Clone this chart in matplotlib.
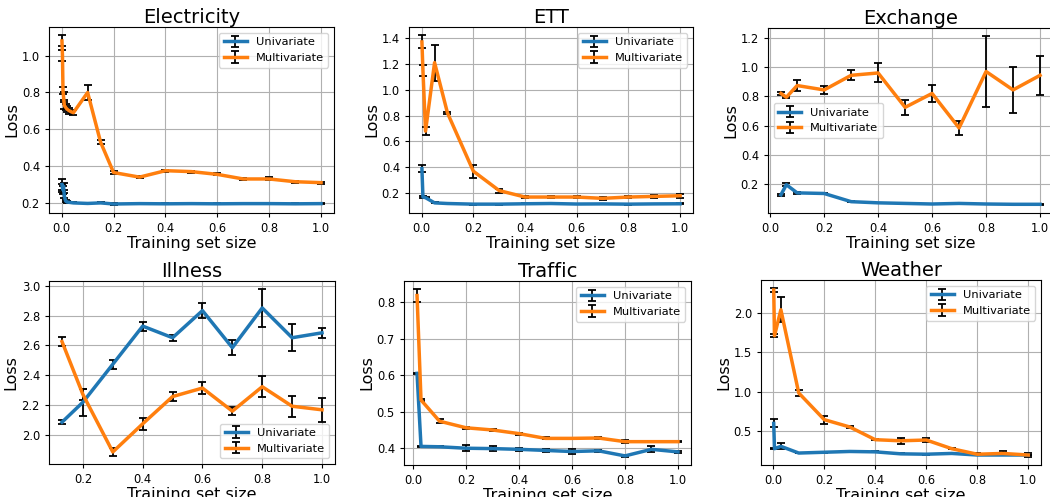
import matplotlib
matplotlib.use("Agg")
import matplotlib.pyplot as plt

# ---------------- data ----------------
elec_x = [0.001, 0.003, 0.005, 0.007, 0.01, 0.015, 0.02, 0.03, 0.045, 0.1, 0.15,
          0.2, 0.3, 0.4, 0.5, 0.6, 0.7, 0.8, 0.9, 1.0]
elec_uni = [0.30, 0.28, 0.27, 0.29, 0.24, 0.21, 0.205, 0.203, 0.200, 0.197, 0.200,
            0.194, 0.196, 0.195, 0.196, 0.195, 0.196, 0.196, 0.195, 0.196]
elec_uni_err = [0.03, 0.02, 0.02, 0.02, 0.015, 0.005, 0.004, 0.003, 0.003, 0.003, 0.003,
                0.003, 0.003, 0.003, 0.003, 0.003, 0.003, 0.003, 0.003, 0.003]
elec_multi = [1.08, 1.00, 0.81, 0.78, 0.73, 0.72, 0.71, 0.70, 0.69, 0.80, 0.53,
              0.365, 0.34, 0.375, 0.37, 0.355, 0.33, 0.33, 0.315, 0.31]
elec_multi_err = [0.03, 0.03, 0.02, 0.02, 0.02, 0.015, 0.015, 0.015, 0.015, 0.04, 0.01,
                  0.007, 0.007, 0.006, 0.006, 0.005, 0.007, 0.008, 0.005, 0.005]

ett_x = [0.001, 0.005, 0.015, 0.05, 0.1, 0.2, 0.3, 0.4, 0.5, 0.6, 0.7, 0.8, 0.9, 1.0]
ett_uni = [0.39, 0.17, 0.165, 0.125, 0.12, 0.115, 0.115, 0.118, 0.12, 0.116, 0.117,
           0.115, 0.117, 0.118]
ett_uni_err = [0.03, 0.005, 0.005, 0.004, 0.003, 0.003, 0.003, 0.003, 0.003, 0.003,
               0.003, 0.003, 0.003, 0.003]
ett_multi = [1.37, 1.15, 0.68, 1.21, 0.82, 0.37, 0.22, 0.17, 0.17, 0.17, 0.16,
             0.17, 0.175, 0.18]
ett_multi_err = [0.05, 0.04, 0.03, 0.14, 0.01, 0.05, 0.015, 0.01, 0.008, 0.008, 0.01,
                 0.01, 0.01, 0.015]

exch_x = [0.04, 0.06, 0.1, 0.2, 0.3, 0.4, 0.5, 0.6, 0.7, 0.8, 0.9, 1.0]
exch_uni = [0.127, 0.196, 0.14, 0.136, 0.08, 0.072, 0.068, 0.064, 0.068, 0.064, 0.062, 0.062]
exch_uni_err = [0.005, 0.01, 0.005, 0.005, 0.003, 0.002, 0.002, 0.002, 0.002, 0.002,
                0.002, 0.002]
exch_multi = [0.82, 0.794, 0.874, 0.844, 0.944, 0.96, 0.725, 0.82, 0.584, 0.97, 0.844, 0.944]
exch_multi_err = [0.008, 0.008, 0.04, 0.03, 0.035, 0.065, 0.05, 0.06, 0.05, 0.24, 0.16, 0.135]

ill_x = [0.13, 0.2, 0.3, 0.4, 0.5, 0.6, 0.7, 0.8, 0.9, 1.0]
ill_uni = [2.084, 2.218, 2.473, 2.729, 2.651, 2.833, 2.584, 2.851, 2.651, 2.684]
ill_uni_err = [0.015, 0.09, 0.03, 0.03, 0.02, 0.05, 0.05, 0.125, 0.09, 0.035]
ill_multi = [2.625, 2.27, 1.884, 2.073, 2.256, 2.313, 2.158, 2.322, 2.191, 2.167]
ill_multi_err = [0.03, 0.04, 0.025, 0.04, 0.03, 0.04, 0.025, 0.07, 0.07, 0.08]

traf_x = [0.015, 0.03, 0.1, 0.2, 0.3, 0.4, 0.5, 0.6, 0.7, 0.8, 0.9, 1.0]
traf_uni = [0.605, 0.405, 0.404, 0.400, 0.399, 0.397, 0.394, 0.391, 0.393, 0.379, 0.397, 0.390]
traf_uni_err = [0.002, 0.001, 0.001, 0.008, 0.006, 0.004, 0.003, 0.006, 0.003, 0.002,
                0.008, 0.002]
traf_multi = [0.818, 0.532, 0.474, 0.456, 0.450, 0.440, 0.427, 0.427, 0.428, 0.418, 0.418, 0.418]
traf_multi_err = [0.017, 0.004, 0.005, 0.002, 0.003, 0.003, 0.003, 0.002, 0.002, 0.004,
                  0.002, 0.002]

wea_x = [0.002, 0.005, 0.03, 0.1, 0.2, 0.3, 0.4, 0.5, 0.6, 0.7, 0.8, 0.9, 1.0]
wea_uni = [0.60, 0.28, 0.31, 0.225, 0.235, 0.245, 0.24, 0.215, 0.21, 0.22, 0.2, 0.2, 0.2]
wea_uni_err = [0.05, 0.01, 0.04, 0.005, 0.008, 0.006, 0.005, 0.005, 0.005, 0.006,
               0.005, 0.005, 0.005]
wea_multi = [2.29, 1.71, 2.04, 0.986, 0.648, 0.555, 0.394, 0.38, 0.39, 0.28, 0.21, 0.22, 0.2]
wea_multi_err = [0.02, 0.02, 0.16, 0.04, 0.05, 0.015, 0.01, 0.04, 0.03, 0.01, 0.01,
                 0.025, 0.02]

titles = ["Electricity", "ETT", "Exchange", "Illness", "Traffic", "Weather"]
legend_locs = ["upper right", "upper right", "center left",
               "lower right", "upper right", "upper right"]

datasets = [
    (elec_x, elec_uni, elec_uni_err, elec_multi, elec_multi_err),
    (ett_x, ett_uni, ett_uni_err, ett_multi, ett_multi_err),
    (exch_x, exch_uni, exch_uni_err, exch_multi, exch_multi_err),
    (ill_x, ill_uni, ill_uni_err, ill_multi, ill_multi_err),
    (traf_x, traf_uni, traf_uni_err, traf_multi, traf_multi_err),
    (wea_x, wea_uni, wea_uni_err, wea_multi, wea_multi_err),
]

# axes boxes in pixels: left, right, top, bottom
W, H = 1050, 497
boxes = [
    (49, 334, 27, 213),
    (409, 693, 27, 213),
    (768, 1053, 28, 213),
    (49, 335, 281, 464),
    (404, 691, 281, 465),
    (761, 1041, 280, 465),
]

fig = plt.figure(figsize=(W / 100, H / 100), dpi=100)

for (x, u, ue, m, me), title, loc, (l, r, t, b) in zip(datasets, titles, legend_locs, boxes):
    ax = fig.add_axes([l / W, 1 - b / H, (r - l) / W, (b - t) / H])
    ax.errorbar(x, u, yerr=ue, color="#1f77b4", ecolor="black", lw=2.5,
                elinewidth=1.3, capsize=2.7, capthick=1.3, label="Univariate")
    ax.errorbar(x, m, yerr=me, color="#ff7f0e", ecolor="black", lw=2.5,
                elinewidth=1.3, capsize=2.7, capthick=1.3, label="Multivariate")
    ax.set_title(title, fontsize=14, pad=3)
    ax.set_xlabel("Training set size", fontsize=11.5, labelpad=1)
    ax.set_ylabel("Loss", fontsize=11.5, labelpad=2)
    ax.tick_params(labelsize=8.3, length=3)
    ax.grid(True, color="#b0b0b0", lw=0.8)
    ax.set_axisbelow(True)
    ax.legend(loc=loc, fontsize=8.2)

fig.savefig("out.png", dpi=100)
